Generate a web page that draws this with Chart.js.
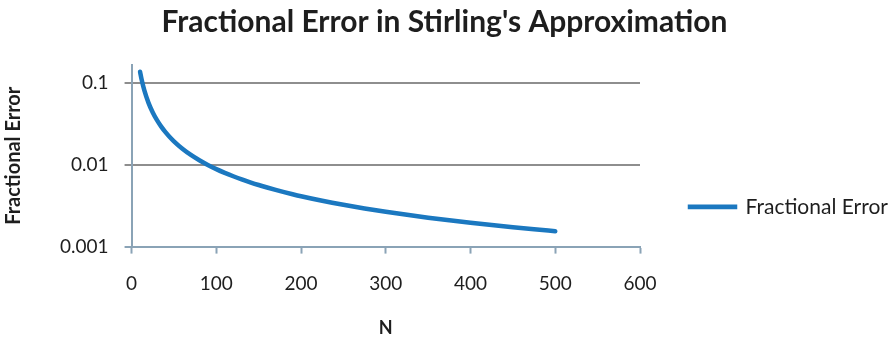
<!DOCTYPE html>
<html>
<head>
<meta charset="utf-8">
<script src="https://cdn.jsdelivr.net/npm/chart.js@4.4.1/dist/chart.umd.min.js"></script>
<style>
  html, body { margin: 0; padding: 0; background: #ffffff; }
  #wrap { width: 889px; height: 340px; }
</style>
</head>
<body>
<div id="wrap"><canvas id="c" width="889" height="340"></canvas></div>
<script>
const chartTitle = "Fractional Error in Stirling's Approximation";
const seriesName = "Fractional Error";
const xAxisTitle = "N";
const yAxisTitle = "Fractional Error";
const nValues = [10, 12, 15, 20, 25, 30, 35, 40, 45, 50, 60, 70, 80, 90, 100, 110, 120, 130, 140, 150, 160, 170, 180, 190, 200, 225, 250, 275, 300, 325, 350, 375, 400, 425, 450, 475, 500];
const errorValues = [0.1376, 0.1085, 0.0817, 0.0572, 0.04365, 0.03512, 0.02929, 0.02507, 0.02187, 0.01938, 0.01573, 0.01321, 0.01137, 0.00996, 0.00886, 0.00797, 0.00724, 0.00662, 0.006107, 0.00566, 0.005273, 0.004935, 0.004636, 0.004371, 0.004133, 0.003637, 0.003245, 0.002927, 0.002665, 0.002445, 0.002258, 0.002097, 0.001957, 0.001834, 0.001725, 0.001629, 0.001542];
const xTicks = [0, 100, 200, 300, 400, 500, 600];
const yTicks = [0.001, 0.01, 0.1];
const yTickLabels = ["0.001", "0.01", "0.1"];

const points = nValues.map((n, i) => ({ x: n, y: errorValues[i] }));
const AXIS = '#8aa3b6';
const GRID = '#8e8e8e';
const TEXT = '#1e1e1e';
const LINE = '#1b78c0';
const FONT = 'Lato, "Open Sans", "DejaVu Sans", sans-serif';

new Chart(document.getElementById('c'), {
  type: 'line',
  data: {
    datasets: [{
      label: seriesName,
      data: points,
      borderColor: LINE,
      backgroundColor: LINE,
      borderWidth: 4.5,
      pointRadius: 0,
      fill: false,
      cubicInterpolationMode: 'monotone',
      borderCapStyle: 'round'
    }]
  },
  options: {
    responsive: false,
    animation: false,
    devicePixelRatio: 1,
    layout: { padding: { left: 0, right: 0, top: 0, bottom: 1 } },
    plugins: {
      title: {
        display: true,
        text: chartTitle,
        color: TEXT,
        font: { family: FONT, size: 30, weight: 'bold' },
        padding: { top: 4, bottom: 25 }
      },
      legend: {
        display: true,
        position: 'right',
        align: 'start',
        maxWidth: 249,
        title: { display: true, text: ' ', font: { size: 12 }, padding: { top: 0, bottom: 132 } },
        labels: {
          color: TEXT,
          font: { family: FONT, size: 21 },
          boxWidth: 45,
          boxHeight: 0.1,
          padding: 50
        }
      },
      tooltip: { enabled: false }
    },
    scales: {
      x: {
        type: 'linear',
        min: 0,
        max: 600,
        afterBuildTicks: (scale) => { scale.ticks = xTicks.map(v => ({ value: v })); },
        ticks: { color: TEXT, font: { family: FONT, size: 19 }, padding: 19, maxRotation: 0 },
        grid: { drawOnChartArea: false, drawTicks: true, tickLength: 7, tickWidth: 2, tickColor: AXIS },
        border: { display: true, color: AXIS, width: 2 },
        title: { display: true, text: xAxisTitle, color: TEXT, font: { family: FONT, size: 18, weight: 'bold' }, padding: { top: 3, bottom: 0 } }
      },
      y: {
        type: 'logarithmic',
        min: 0.001,
        max: 0.166,
        afterBuildTicks: (scale) => { scale.ticks = yTicks.map(v => ({ value: v })); },
        ticks: {
          color: TEXT,
          font: { family: FONT, size: 19 },
          padding: 16,
          callback: (v) => { const i = yTicks.indexOf(v); return i >= 0 ? yTickLabels[i] : ''; }
        },
        grid: {
          drawOnChartArea: true,
          drawTicks: true,
          tickLength: 7,
          lineWidth: 2,
          color: (ctx) => (ctx.tick && ctx.tick.value === 0.001 ? AXIS : GRID),
          tickColor: (ctx) => (ctx.tick && ctx.tick.value === 0.001 ? AXIS : GRID)
        },
        border: { display: true, color: AXIS, width: 2 },
        title: { display: true, text: yAxisTitle, color: TEXT, font: { family: FONT, size: 20, weight: 'bold' }, padding: { top: 2, bottom: 18 } }
      }
    }
  }
});
</script>
</body>
</html>
